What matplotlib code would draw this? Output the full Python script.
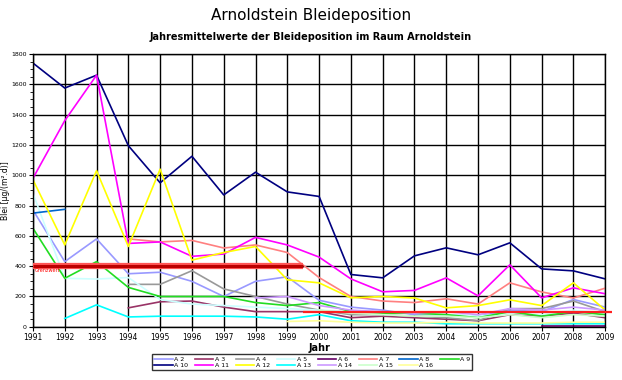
import numpy as np
import matplotlib
matplotlib.use('Agg')
import matplotlib.pyplot as plt
from matplotlib.ticker import MultipleLocator

years = list(range(1991, 2010))

# Jahresmittelwerte Bleideposition [µg/(m².d)], None = kein Messwert
a2 = [770, 430, 580, 350, 360, 300, 200, 300, 330, 175, 130, 110, 80, 80, 70, 110, 100, 180, 130]
a3 = [None, None, None, 125, 165, 170, 130, 100, 100, 100, 60, 70, 60, 50, 40, 80, 70, 90, 60]
a4 = [None, None, None, 280, 280, 370, 250, 200, 150, 110, 80, 80, 70, 60, 40, 120, 120, 170, 100]
a5 = [880, 320, 315, 325, 180, 150, 140, 130, 120, 110, 100, 90, 90, 80, 70, 90, 80, 110, 90]
a6 = [None, None, None, None, None, None, None, None, None, None, None, None, None, None, None, None, 5, 5, 5]
a7 = [None, None, None, 580, 560, 570, 520, 540, 490, 325, 200, 170, 160, 185, 150, 290, 230, 190, 255]
a8 = [750, 775, None, None, None, None, None, None, None, None, None, None, None, None, None, None, None, None, None]
a9 = [650, 320, 430, 260, 200, 200, 200, 160, 140, 160, 100, 90, 90, 80, 60, 100, 70, 100, 80]
a10 = [1740, 1575, 1660, 1195, 950, 1125, 870, 1020, 890, 860, 345, 323, 468, 521, 475, 554, 382, 369, 316]
a11 = [980, 1360, 1660, 550, 560, 465, 480, 590, 540, 460, 316, 231, 240, 323, 204, 409, 191, 257, 218]
a12 = [970, 540, 1030, 530, 1040, 440, 490, 530, 310, 290, 191, 200, 190, 125, 140, 178, 140, 290, 110]
a13 = [None, 55, 145, 65, 70, 70, 70, 65, 50, 80, 40, 30, 30, 20, 20, 20, 20, 20, 20]
a14 = [None, None, None, None, None, None, None, 190, 200, 140, 110, 100, 90, 100, 80, 120, 110, 130, 110]
a15 = [None, None, None, None, None, None, None, None, None, 110, 90, 80, 70, 70, 60, 80, 60, 80, 70]
a16 = [None, None, None, None, None, None, None, None, 35, 40, 30, 25, 25, 30, 25, 25, 25, 30, 30]

series = [
    ('A 2', a2, '#9999ff'),
    ('A 3', a3, '#993366'),
    ('A 4', a4, '#999999'),
    ('A 5', a5, '#ccffff'),
    ('A 6', a6, '#660066'),
    ('A 7', a7, '#ff8080'),
    ('A 8', a8, '#0066cc'),
    ('A 9', a9, '#22dd22'),
    ('A 10', a10, '#000080'),
    ('A 11', a11, '#ff00ff'),
    ('A 12', a12, '#ffff00'),
    ('A 13', a13, '#00ffff'),
    ('A 14', a14, '#cc99ff'),
    ('A 15', a15, '#ccffcc'),
    ('A 16', a16, '#ffff99'),
]

# Grenzwerte
grenz_x1 = [1991, 1999.5]
grenz_y1 = [400, 400]
grenz_x2 = [1999.5, 2009.2]
grenz_y2 = [100, 100]


def to_array(vals):
    return np.array([np.nan if v is None else v for v in vals], dtype=float)


fig = plt.figure(figsize=(6.22, 3.8), dpi=100)
ax = fig.add_axes([0.053, 0.14, 0.920, 0.718])

lines = []
for name, vals, col in series:
    ln, = ax.plot(years, to_array(vals), color=col, linewidth=1.2, label=name)
    lines.append(ln)

# Grenzwert-Linien
ax.plot(grenz_x1, grenz_y1, color='#ff5555', linewidth=4.5, solid_capstyle='butt', zorder=3)
ax.plot(grenz_x1, grenz_y1, color='#bb0000', linewidth=2.2, solid_capstyle='butt', zorder=3)
ax.plot(grenz_x2, grenz_y2, color='#ff2020', linewidth=1.6, solid_capstyle='butt',
        zorder=3, clip_on=False)
ax.text(1991.05, 385, 'Grenzwert', color='red', fontsize=3.5, va='top', ha='left')

ax.set_xlim(1991, 2009)
ax.set_ylim(0, 1800)
ax.set_xticks(years)
ax.set_xticklabels([str(y) for y in years], fontsize=5.5)
ax.yaxis.set_major_locator(MultipleLocator(200))
ax.yaxis.set_minor_locator(MultipleLocator(50))
ax.tick_params(axis='y', labelsize=4.5)
ax.tick_params(axis='both', which='major', length=3, width=0.8, pad=1.5)
ax.tick_params(axis='y', which='minor', length=2, width=0.6)
ax.grid(True, which='major', color='black', linewidth=1.0)
ax.set_axisbelow(True)
for sp in ax.spines.values():
    sp.set_linewidth(1.0)

ax.set_xlabel('Jahr', fontsize=7, fontweight='bold', labelpad=1)
ax.set_ylabel('Blei [µg/(m².d)]', fontsize=5.5, labelpad=1)

fig.text(0.5, 0.958, 'Arnoldstein Bleideposition', ha='center', va='center', fontsize=11)
fig.text(0.5, 0.903, 'Jahresmittelwerte der Bleideposition im Raum Arnoldstein',
         ha='center', va='center', fontsize=7, fontweight='bold')

# legend row by row: A2..A9 on top, A10..A16 below (matplotlib fills by column)
order = []
for i in range(7):
    order += [i, i + 8]
order.append(7)
leg = ax.legend([lines[i] for i in order], [series[i][0] for i in order],
                loc='upper center', bbox_to_anchor=(0.488, -0.09), ncol=8, fontsize=4.5,
                frameon=True, fancybox=False, edgecolor='black', handlelength=3.0,
                handletextpad=0.2, columnspacing=1.1, borderpad=0.3, labelspacing=0.2)
leg.get_frame().set_linewidth(1.0)

fig.savefig('out.png', dpi=100)
